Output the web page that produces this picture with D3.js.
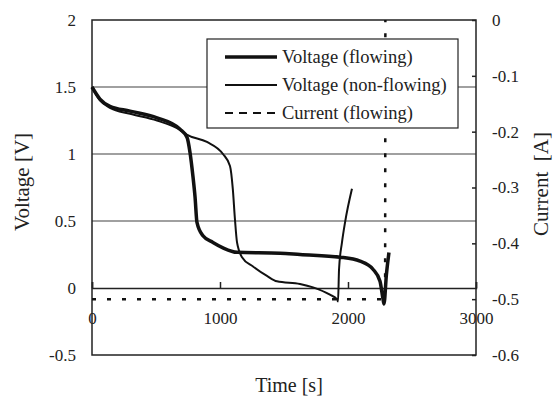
<!DOCTYPE html>
<html lang="en">
<head>
  <meta charset="UTF-8">
  <title>Voltage and current vs time</title>
  <script src="https://d3js.org/d3.v7.min.js"></script>
  <style>
    body {
      margin: 0;
      background: #fff;
    }
    text {
      font-family: "Liberation Serif", "Times New Roman", serif;
      fill: #222;
    }
    .grid line {
      stroke: #808080;
      stroke-width: 1.5;
    }
  </style>
</head>
<body>
  <svg width="553" height="399"></svg>

  <script>
    // flowing cell voltage
    const tFlow = [0, 62, 140, 297, 508, 688, 742, 766, 789, 805, 820, 867, 945, 1023, 1133, 1469, 1625, 1937, 2094, 2195, 2250, 2273, 2281, 2300, 2320];
    const vFlow = [1.5, 1.41, 1.356, 1.32, 1.27, 1.185, 1.125, 1.01, 0.83, 0.68, 0.49, 0.39, 0.34, 0.30, 0.266, 0.26, 0.25, 0.23, 0.2, 0.14, 0.05, -0.08, -0.12, 0.1, 0.265];

    // non-flowing cell voltage
    const tStill = [0, 62, 140, 297, 508, 688, 740, 898, 1023, 1078, 1100, 1117, 1133, 1172, 1258, 1367, 1445, 1625, 1727, 1859, 1914, 1922, 1930, 1953, 1977, 2031];
    const vStill = [1.5, 1.40, 1.345, 1.30, 1.25, 1.18, 1.145, 1.09, 1.0, 0.91, 0.74, 0.51, 0.34, 0.23, 0.16, 0.09, 0.05, 0.03, 0.005, -0.05, -0.085, -0.1, 0.14, 0.34, 0.49, 0.74];

    // flowing current
    const tCur = [0, 2290, 2292];
    const iCur = [-0.5, -0.5, 0];

    const voltTicks = [-0.5, 0, 0.5, 1, 1.5, 2];
    const curTicks = [0, -0.1, -0.2, -0.3, -0.4, -0.5, -0.6];
    const timeTicks = [0, 1000, 2000, 3000];

    const legendItems = [
      { label: "Voltage (flowing)", width: 3.5, dash: null },
      { label: "Voltage (non-flowing)", width: 2, dash: null },
      { label: "Current (flowing)", width: 2, dash: "8,6" }
    ];

    const svg = d3.select("svg");
    const margin = {top: 20, right: 77, bottom: 44, left: 92},
          width = +svg.attr("width") - margin.left - margin.right,
          height = +svg.attr("height") - margin.top - margin.bottom;

    const g = svg.append("g").attr("transform", `translate(${margin.left},${margin.top})`);

    const x = d3.scaleLinear().domain([0, 3000]).range([0, width]);
    const yV = d3.scaleLinear().domain([-0.5, 2]).range([height, 0]);
    const yI = d3.scaleLinear().domain([-0.6, 0]).range([height, 0]);

    const plain = d => String(d);   // keep ascii hyphen for negatives

    // gridlines
    g.append("g").attr("class", "grid")
      .selectAll("line")
      .data([0.5, 1, 1.5])
      .enter().append("line")
      .attr("x1", 0).attr("x2", width)
      .attr("y1", d => yV(d)).attr("y2", d => yV(d));

    // frame
    g.append("rect")
      .attr("width", width).attr("height", height)
      .attr("fill", "none").attr("stroke", "#222").attr("stroke-width", 1.5);

    // left axis (labels only)
    const leftAxis = g.append("g")
      .call(d3.axisLeft(yV).tickValues(voltTicks).tickSize(0).tickPadding(16).tickFormat(plain));
    leftAxis.select(".domain").remove();
    leftAxis.selectAll("text").attr("font-size", 17);

    // right axis
    const rightAxis = g.append("g")
      .attr("transform", `translate(${width},0)`)
      .call(d3.axisRight(yI).tickValues(curTicks).tickSize(-4).tickPadding(16).tickFormat(plain));
    rightAxis.select(".domain").remove();
    rightAxis.selectAll("line").attr("stroke", "#222").attr("stroke-width", 1.5);
    rightAxis.selectAll("text").attr("font-size", 17);

    // x axis sits on the 0 V line, ticks pointing up
    const xAxis = g.append("g")
      .attr("transform", `translate(0,${yV(0)})`)
      .call(d3.axisBottom(x).tickValues(timeTicks).tickSize(-6).tickPadding(24).tickFormat(plain));
    xAxis.select(".domain").attr("stroke", "#222").attr("stroke-width", 1.5);
    xAxis.selectAll("line").attr("stroke", "#222").attr("stroke-width", 1.5);
    xAxis.selectAll("text").attr("font-size", 17);

    const lineV = d3.line().x(d => x(d[0])).y(d => yV(d[1])).curve(d3.curveMonotoneX);
    const lineI = d3.line().x(d => x(d[0])).y(d => yI(d[1]));

    g.append("path")
      .datum(d3.zip(tCur, iCur))
      .attr("d", lineI)
      .attr("fill", "none").attr("stroke", "#111").attr("stroke-width", 2.5)
      .attr("stroke-dasharray", "4,11");

    g.append("path")
      .datum(d3.zip(tStill, vStill))
      .attr("d", lineV)
      .attr("fill", "none").attr("stroke", "#111").attr("stroke-width", 2);

    g.append("path")
      .datum(d3.zip(tFlow, vFlow))
      .attr("d", lineV)
      .attr("fill", "none").attr("stroke", "#111").attr("stroke-width", 3.5);

    // legend
    const lg = svg.append("g").attr("transform", "translate(207,39)");
    lg.append("rect").attr("width", 251).attr("height", 89)
      .attr("fill", "#fff").attr("stroke", "#222").attr("stroke-width", 1.2);
    const row = lg.selectAll(".row").data(legendItems).enter().append("g")
      .attr("transform", (d, i) => `translate(0,${18 + i * 28})`);
    row.append("line")
      .attr("x1", 18).attr("x2", 70)
      .attr("stroke", "#111")
      .attr("stroke-width", d => d.width)
      .attr("stroke-dasharray", d => d.dash);
    row.append("text")
      .attr("x", 75).attr("y", 6)
      .attr("font-size", 18.5)
      .text(d => d.label);

    // axis titles
    svg.append("text")
      .attr("transform", "translate(29,182) rotate(-90)")
      .attr("text-anchor", "middle").attr("font-size", 21)
      .text("Voltage [V]");
    svg.append("text")
      .attr("transform", "translate(548,184) rotate(-90)")
      .attr("text-anchor", "middle").attr("font-size", 21)
      .style("white-space", "pre")
      .text("Current  [A]");
    svg.append("text")
      .attr("x", 289).attr("y", 392)
      .attr("text-anchor", "middle").attr("font-size", 20)
      .text("Time [s]");
  </script>
</body>
</html>
